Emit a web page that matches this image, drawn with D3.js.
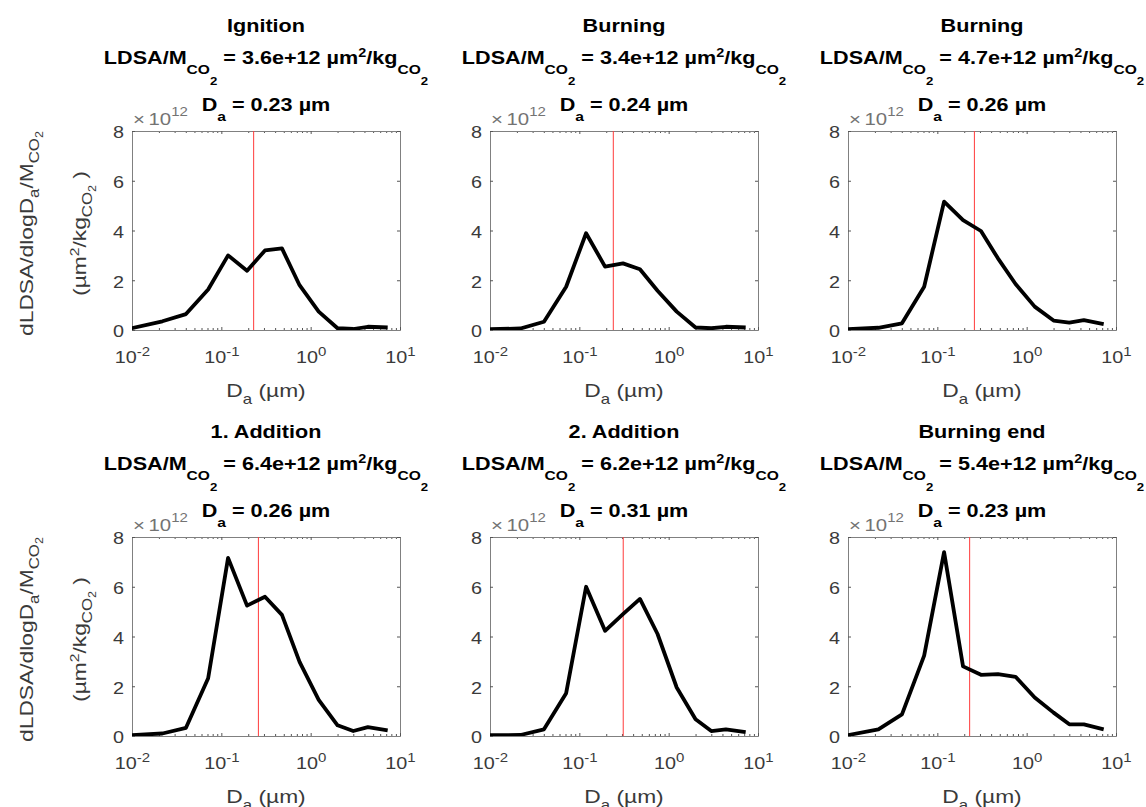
<!DOCTYPE html>
<html>
<head>
<meta charset="utf-8">
<script src="https://cdn.jsdelivr.net/npm/d3@7"></script>
<style>
  body { margin: 0; background: #fff; }
  text { font-family: "Liberation Sans", Arial, sans-serif; }
</style>
</head>
<body>
<svg id="chart" width="1146" height="807"></svg>
<script>
// ELPI stage mid diameters (um)
const diameters = [0.0098, 0.0219, 0.0402, 0.0712, 0.119, 0.194, 0.308, 0.477, 0.751, 1.23, 2.0, 3.0, 4.37, 7.28];

// panel info
const titles = ["Ignition", "Burning", "Burning", "1. Addition", "2. Addition", "Burning end"];
const ldsaTotals = ["3.6e+12", "3.4e+12", "4.7e+12", "6.4e+12", "6.2e+12", "5.4e+12"];
const medianDa = [0.23, 0.24, 0.26, 0.26, 0.31, 0.23];

// dLDSA/dlogDa/M_CO2, in units of 1e12 um^2/kg_CO2
const ignition   = [0.07, 0.35, 0.64, 1.63, 3.0, 2.38, 3.2, 3.28, 1.8, 0.74, 0.07, 0.04, 0.13, 0.1];
const burning1   = [0.03, 0.06, 0.33, 1.74, 3.89, 2.55, 2.68, 2.44, 1.58, 0.74, 0.1, 0.07, 0.13, 0.1];
const burning2   = [0.03, 0.09, 0.27, 1.74, 5.16, 4.42, 3.98, 2.88, 1.85, 0.94, 0.38, 0.3, 0.4, 0.24];
const addition1  = [0.03, 0.1, 0.33, 2.32, 7.16, 5.24, 5.6, 4.87, 2.98, 1.45, 0.43, 0.2, 0.36, 0.23];
const addition2  = [0.03, 0.04, 0.27, 1.72, 6.0, 4.23, 4.9, 5.51, 4.1, 1.95, 0.67, 0.2, 0.27, 0.16];
const burningEnd = [0.03, 0.27, 0.87, 3.23, 7.39, 2.8, 2.46, 2.49, 2.38, 1.55, 0.94, 0.47, 0.47, 0.27];
const series = [ignition, burning1, burning2, addition1, addition2, burningEnd];

const xTicks = [0.01, 0.1, 1, 10];
const yTicks = [0, 2, 4, 6, 8];

const svg = d3.select("#chart");
const w = 268, h = 199;
const lefts = [132, 490, 848], tops = [131, 537];
const SX = 1.2; // the original font is set wide

const x = d3.scaleLog().domain([0.01, 10]).range([0, w]);
const y = d3.scaleLinear().domain([0, 8]).range([h, 0]);
const minor = x.ticks().filter(v => xTicks.indexOf(v) < 0);

const line = d3.line().x((d, i) => x(diameters[i])).y(d => y(d));

svg.append("defs").append("clipPath").attr("id", "plotclip")
  .append("rect").attr("width", w).attr("height", h);

const tickCol = "#555", labCol = "#3a3a3a";

// widen a text around its anchor point
function stretch(t, ax, ay) {
  t.attr("transform", `translate(${ax},${ay}) scale(${SX},1) translate(${-ax},${-ay})`);
}

series.forEach((vals, k) => {
  const g = svg.append("g")
    .attr("transform", `translate(${lefts[k % 3]},${tops[Math.floor(k / 3)]})`);

  // axes (ticks inside, box on)
  const styleAxis = sel => {
    sel.attr("font-family", null);
    sel.select(".domain").attr("stroke", "#808080");
    sel.selectAll(".tick line").attr("stroke", tickCol);
  };
  g.append("g").attr("transform", `translate(0,${h})`)
    .call(d3.axisBottom(x).tickValues(minor).tickSize(-2).tickSizeOuter(0).tickFormat(""))
    .call(styleAxis);
  g.append("g")
    .call(d3.axisTop(x).tickValues(minor).tickSize(-2).tickSizeOuter(0).tickFormat(""))
    .call(styleAxis);
  g.append("g")
    .call(d3.axisTop(x).tickValues(xTicks).tickSize(-3).tickSizeOuter(0).tickFormat(""))
    .call(styleAxis);
  g.append("g").attr("transform", `translate(${w},0)`)
    .call(d3.axisRight(y).tickValues(yTicks).tickSize(-3).tickSizeOuter(0).tickFormat(""))
    .call(styleAxis);

  const gx = g.append("g").attr("transform", `translate(0,${h})`)
    .call(d3.axisBottom(x).tickValues(xTicks).tickSize(-3).tickSizeOuter(0).tickPadding(33))
    .call(styleAxis);
  gx.selectAll(".tick text")
    .attr("fill", labCol).attr("font-size", 16.5).attr("dy", 0)
    .text(null)
    .each(function(d) {
      const t = d3.select(this);
      t.append("tspan").text("10");
      t.append("tspan").attr("font-size", 12.5).attr("dy", -7).text(Math.round(Math.log10(d)));
      stretch(t, 0, 33);
    });

  const gy = g.append("g")
    .call(d3.axisLeft(y).tickValues(yTicks).tickSize(-3).tickSizeOuter(0).tickPadding(8))
    .call(styleAxis);
  gy.selectAll(".tick text").attr("fill", labCol).attr("font-size", 16.5).attr("dy", "0.42em")
    .each(function() { stretch(d3.select(this), -8, 0); });

  // exponent label
  const ex = g.append("text").attr("x", 1).attr("y", -6).attr("fill", "#737373").attr("font-size", 17);
  ex.append("tspan").text("\u00d7");
  ex.append("tspan").attr("dx", 3).text("10");
  ex.append("tspan").attr("font-size", 12.5).attr("dy", -9).text("12");
  stretch(ex, 1, -6);

  // median diameter line
  g.append("line")
    .attr("x1", x(medianDa[k])).attr("x2", x(medianDa[k]))
    .attr("y1", 0).attr("y2", h)
    .attr("stroke", "#ff3b3b").attr("stroke-width", 1);

  // data
  g.append("path").datum(vals)
    .attr("clip-path", "url(#plotclip)")
    .attr("d", line)
    .attr("fill", "none").attr("stroke", "#000")
    .attr("stroke-width", 3.8).attr("stroke-linejoin", "round");

  // titles
  const cx = w / 2;
  const t1 = g.append("text").attr("x", cx).attr("y", -99).attr("text-anchor", "middle")
    .attr("font-weight", "bold").attr("font-size", 18).text(titles[k]);
  stretch(t1, cx, -99);

  const t2 = g.append("text").attr("x", cx).attr("y", -67).attr("text-anchor", "middle")
    .attr("font-weight", "bold").attr("font-size", 18);
  t2.append("tspan").text("LDSA/M");
  t2.append("tspan").attr("font-size", 13).attr("dy", 10).text("CO");
  t2.append("tspan").attr("font-size", 11).attr("dy", 11).text("2");
  t2.append("tspan").attr("dy", -21).text(` = ${ldsaTotals[k]} \u00b5m`);
  t2.append("tspan").attr("font-size", 12).attr("dy", -7).text("2");
  t2.append("tspan").attr("dy", 7).text("/kg");
  t2.append("tspan").attr("font-size", 13).attr("dy", 10).text("CO");
  t2.append("tspan").attr("font-size", 11).attr("dy", 11).text("2");
  stretch(t2, cx, -67);

  const t3 = g.append("text").attr("x", cx).attr("y", -20).attr("text-anchor", "middle")
    .attr("font-weight", "bold").attr("font-size", 18);
  t3.append("tspan").text("D");
  t3.append("tspan").attr("font-size", 13).attr("dy", 10).text("a");
  t3.append("tspan").attr("dy", -10).text(` = ${medianDa[k].toFixed(2)} \u00b5m`);
  stretch(t3, cx, -20);

  // x label
  const xl = g.append("text").attr("x", cx).attr("y", h + 67).attr("text-anchor", "middle")
    .attr("fill", labCol).attr("font-size", 19);
  xl.append("tspan").text("D");
  xl.append("tspan").attr("font-size", 14).attr("dy", 7).text("a");
  xl.append("tspan").attr("dy", -7).text(" (\u00b5m)");
  stretch(xl, cx, h + 67);

  // y label (left column only)
  if (k % 3 === 0) {
    const yc = h / 2 + 3;
    const y1 = g.append("text")
      .attr("transform", `translate(-99,${yc}) rotate(-90) scale(${SX},1)`)
      .attr("text-anchor", "middle").attr("fill", labCol).attr("font-size", 19);
    y1.append("tspan").text("dLDSA/dlogD");
    y1.append("tspan").attr("font-size", 14).attr("dy", 6).text("a");
    y1.append("tspan").attr("dy", -6).text("/M");
    y1.append("tspan").attr("font-size", 14).attr("dy", 6).text("CO");
    y1.append("tspan").attr("font-size", 10.5).attr("dy", 4).text("2");

    const y2 = g.append("text")
      .attr("transform", `translate(-46,${yc}) rotate(-90) scale(${SX},1)`)
      .attr("text-anchor", "middle").attr("fill", labCol).attr("font-size", 19);
    y2.append("tspan").text("(\u00b5m");
    y2.append("tspan").attr("font-size", 13).attr("dy", -7).text("2");
    y2.append("tspan").attr("dy", 7).text("/kg");
    y2.append("tspan").attr("font-size", 14).attr("dy", 6).text("CO");
    y2.append("tspan").attr("font-size", 10.5).attr("dy", 4).text("2");
    y2.append("tspan").attr("dy", -10).text(" )");
  }
});
</script>
</body>
</html>
